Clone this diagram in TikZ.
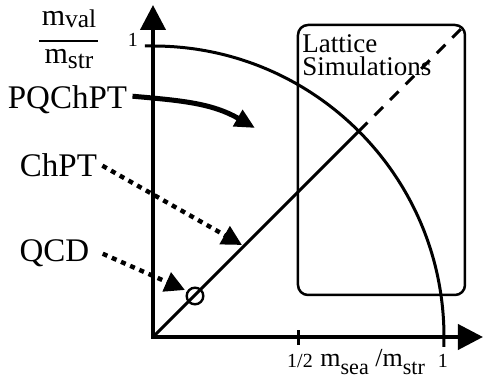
\documentclass[tikz,border=0pt]{standalone}
\usepackage{amsmath}
\usepackage{fontspec}
\setmainfont{Liberation Serif}
\usetikzlibrary{arrows.meta,positioning}

\newcommand{\msub}[2][0.3em]{\raisebox{-#1}{\scalebox{0.85}{#2}}}

\begin{document}
\begin{tikzpicture}[
  x=0.5pt, y=0.5pt,
  axis/.style={line width=2pt, line join=miter},
  curve/.style={line width=1.5pt},
  lab/.style={font=\fontsize{16.5}{20}\selectfont, inner sep=2.5pt},
  num/.style={font=\fontsize{10}{12}\selectfont, inner sep=0pt},
  dotarr/.style={-{Triangle[length=10pt,width=10pt]}, line width=2.2pt, dash pattern=on 2.5pt off 2.5pt},
  solarr/.style={-{Triangle[length=10pt,width=9pt]}, line width=2.5pt}
]
\useasboundingbox (-153,-43) rectangle (331,337);

% Axes
\coordinate (o) at (0,0);
\draw[axis, {Triangle[length=12.5pt,width=12.5pt]}-{Triangle[length=12.5pt,width=12.5pt]}] (0,332) -- (o) -- (330,0);
\draw[line width=1.5pt] (145.5,-8) -- (145.5,7);

% Unit circle and diagonal
\draw[curve] (-8,291) -- (0,291) arc[start angle=90, end angle=0, radius=291] -- (291,-10);
\draw[curve] (o) -- (206,206);
\draw[curve, dash pattern=on 6pt off 5pt] (206,206) -- (310,310);
\node[draw, circle, line width=1.2pt, minimum size=8.3pt, inner sep=0pt] (qcdpt) at (42,41) {};

% Lattice region
\node[draw, line width=1.25pt, rounded corners=5pt, minimum width=83.5pt, minimum height=135pt] (simbox) at (228.5,177) {};
\node[anchor=north west, align=left, inner sep=0pt, font=\fontsize{13.5}{11.8}\selectfont] (simlabel) at (149,303) {Lattice\\Simulations};

% Axis labels
\node[num, anchor=base] (yone) at (-20,290) {1};
\node[num, anchor=base] (xhalf) at (147,-31) {1/2};
\node[num, anchor=base] (xone) at (290,-31) {1};
\node[anchor=base west, inner sep=0pt, font=\fontsize{13}{15}\selectfont] (xlab) at (167,-30) {m\msub[4pt]{sea} /m\msub[4pt]{str}};
\node[align=center, inner sep=0pt, font=\fontsize{15}{10.5}\selectfont] (ylab) at (-84,298) {m\msub[0.8pt]{val}\\[-2pt]\rule{29.5pt}{1pt}\\m\msub[2.5pt]{str}};

% Theory labels
\node[lab, anchor=base] (pqchpt) at (-85.5,228) {PQChPT};
\node[lab, anchor=base] (chpt) at (-94.5,160) {ChPT};
\node[lab, anchor=base] (qcd) at (-98.5,75) {QCD};

% Arrows
\coordinate (pqtip) at (102,209);
\coordinate (chtip) at (89,92);
\coordinate (qcdtip) at (32,47);
\draw[solarr] ([yshift=2pt]pqchpt.east) to[out=-5, in=150] (pqtip);
\draw[dotarr] (chpt.east) -- (chtip);
\draw[dotarr] ([xshift=4pt]qcd.east) -- (qcdtip);

\end{tikzpicture}
\end{document}
